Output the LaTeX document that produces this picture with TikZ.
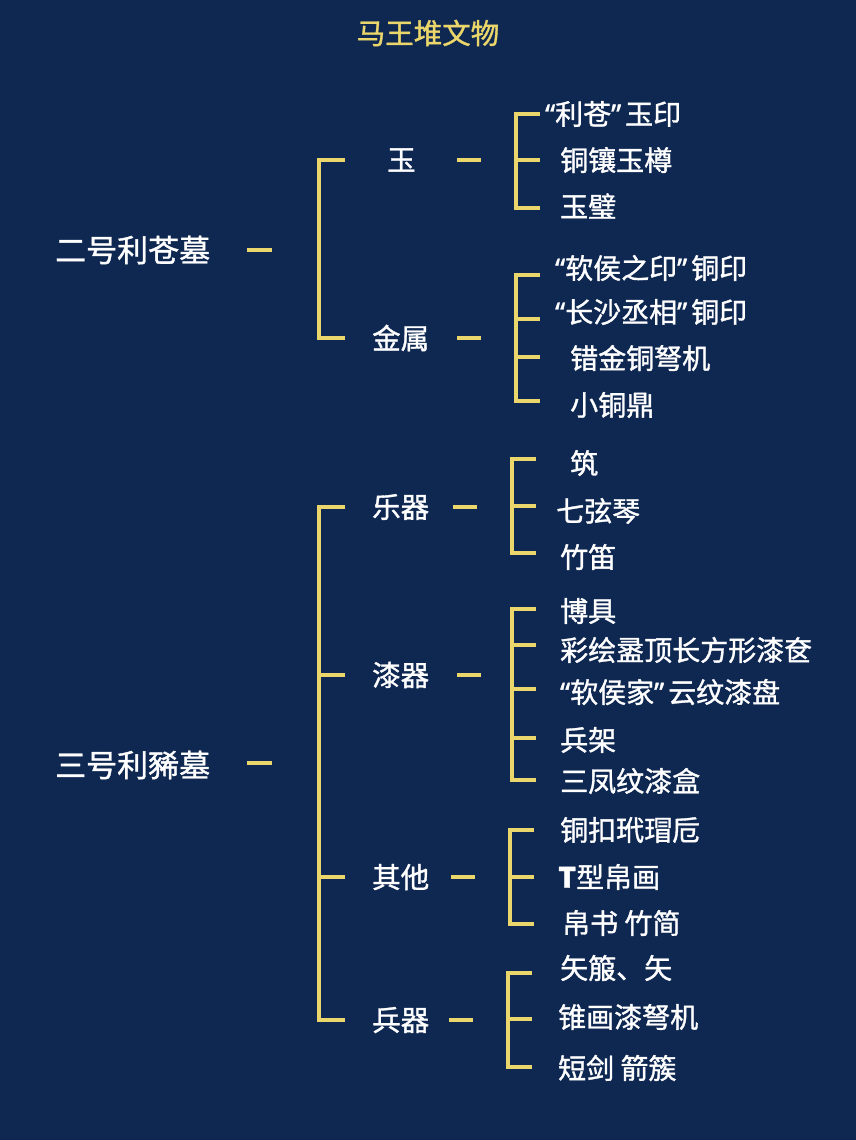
\documentclass[tikz,border=0pt]{standalone}
\usepackage{fontspec}
\newfontfamily\cjk[FakeBold=1.2]{Noto Sans CJK SC}
\newfontfamily\lat[FakeBold=1.2]{Noto Sans}
\newcommand{\oq}{\makebox[14pt][r]{\lat “}}
\newcommand{\cq}{\makebox[14pt][l]{\lat ”}}
\definecolor{navy}{RGB}{14,40,82}
\definecolor{gold}{RGB}{234,214,106}

\begin{document}
\begin{tikzpicture}[x=1pt,y=-1pt,
		item/.style={text=white,font=\cjk\fontsize{28}{30}\selectfont,anchor=west,inner sep=0pt},
		cat/.style={text=white,font=\cjk\fontsize{28.5}{30}\selectfont,anchor=west,inner sep=0pt},
		tomb/.style={text=white,font=\cjk\fontsize{31}{32}\selectfont,anchor=west,inner sep=0pt},
		link/.style={gold,line width=3.2pt}]
			\fill[navy] (0,0) rectangle (856,1140);
			\useasboundingbox (0,0) rectangle (856,1140);

			\node[text=gold,font=\cjk\fontsize{28.5}{30}\selectfont] (title) at (428,33) {马王堆文物};

			% tombs
			\node[tomb] (t2) at (55,250) {二号利苍墓};
			\node[tomb] (t3) at (55,765) {三号利豨墓};
			\draw[link] (247,250) -- (272,250);
			\draw[link] (247,763) -- (272,763);

			% first level brackets
			\draw[link] (345,160) -| (319,338) -- (345,338);
			\draw[link] (345,507) -| (319,1020) -- (345,1020);
			\draw[link] (319,675) -- (345,675)
						(319,877) -- (345,877);

			\node[cat] (yu) at (387,160) {玉};
			\node[cat] (jinshu) at (372,338) {金属};
			\node[cat] (yueqi) at (372,507) {乐器};
			\node[cat] (qiqi) at (372,675) {漆器};
			\node[cat] (qita) at (372,877) {其他};
			\node[cat] (bingqi) at (372,1020) {兵器};
			\draw[link] (457,160) -- (481,160)
						(457,338) -- (481,338)
						(453,507) -- (477,507)
						(457,675) -- (481,675)
						(451,877) -- (475,877)
						(449,1020) -- (473,1020);

			% second level brackets
			\draw[link] (540,114) -| (516,208) -- (540,208);
			\draw[link] (516,160) -- (540,160);
			\draw[link] (540,275) -| (516,401) -- (540,401);
			\draw[link] (516,319) -- (540,319) (516,357) -- (540,357);
			\draw[link] (536,459) -| (512,553) -- (536,553);
			\draw[link] (512,506) -- (536,506);
			\draw[link] (536,609) -| (512,780) -- (536,780);
			\draw[link] (512,645) -- (536,645) (512,689) -- (536,689)
						(512,738) -- (536,738);
			\draw[link] (534,830) -| (510,924) -- (534,924);
			\draw[link] (510,877) -- (534,877);
			\draw[link] (532,973) -| (508,1067) -- (532,1067);
			\draw[link] (508,1019) -- (532,1019);

			% items
			\node[item] (yu1) at (541,114) {\oq 利苍\cq 玉印};
			\node[item] (yu2) at (560,160) {铜镶玉樽};
			\node[item] (yu3) at (560,206) {玉璧};

			\node[item] (js1) at (551,268) {\oq 软侯之印\cq 铜印};
			\node[item] (js2) at (551,312) {\oq 长沙丞相\cq 铜印};
			\node[item] (js3) at (570,358) {错金铜弩机};
			\node[item] (js4) at (570,405) {小铜鼎};

			\node[item] (yq1) at (570,463) {筑};
			\node[item] (yq2) at (556,511) {七弦琴};
			\node[item] (yq3) at (560,557) {竹笛};

			\node[item] (qq1) at (560,611) {博具};
			\node[item] (qq2) at (560,650) {彩绘盝顶长方形漆奁};
			\node[item] (qq3) at (556,692) {\oq 软侯家\cq 云纹漆盘};
			\node[item] (qq4) at (560,740) {兵架};
			\node[item] (qq5) at (560,781) {三凤纹漆盒};

			\node[item] (qt1) at (560,830) {铜扣玳瑁卮};
			\node[item] (qt2) at (558,877) {{\bfseries T}型帛画};
			\node[item] (qt3) at (562,923) {帛书 竹简};

			\node[item] (bq1) at (560,968) {矢箙、矢};
			\node[item] (bq2) at (558,1017) {锥画漆弩机};
			\node[item] (bq3) at (558,1068) {短剑 箭簇};
		\end{tikzpicture}
\end{document}
